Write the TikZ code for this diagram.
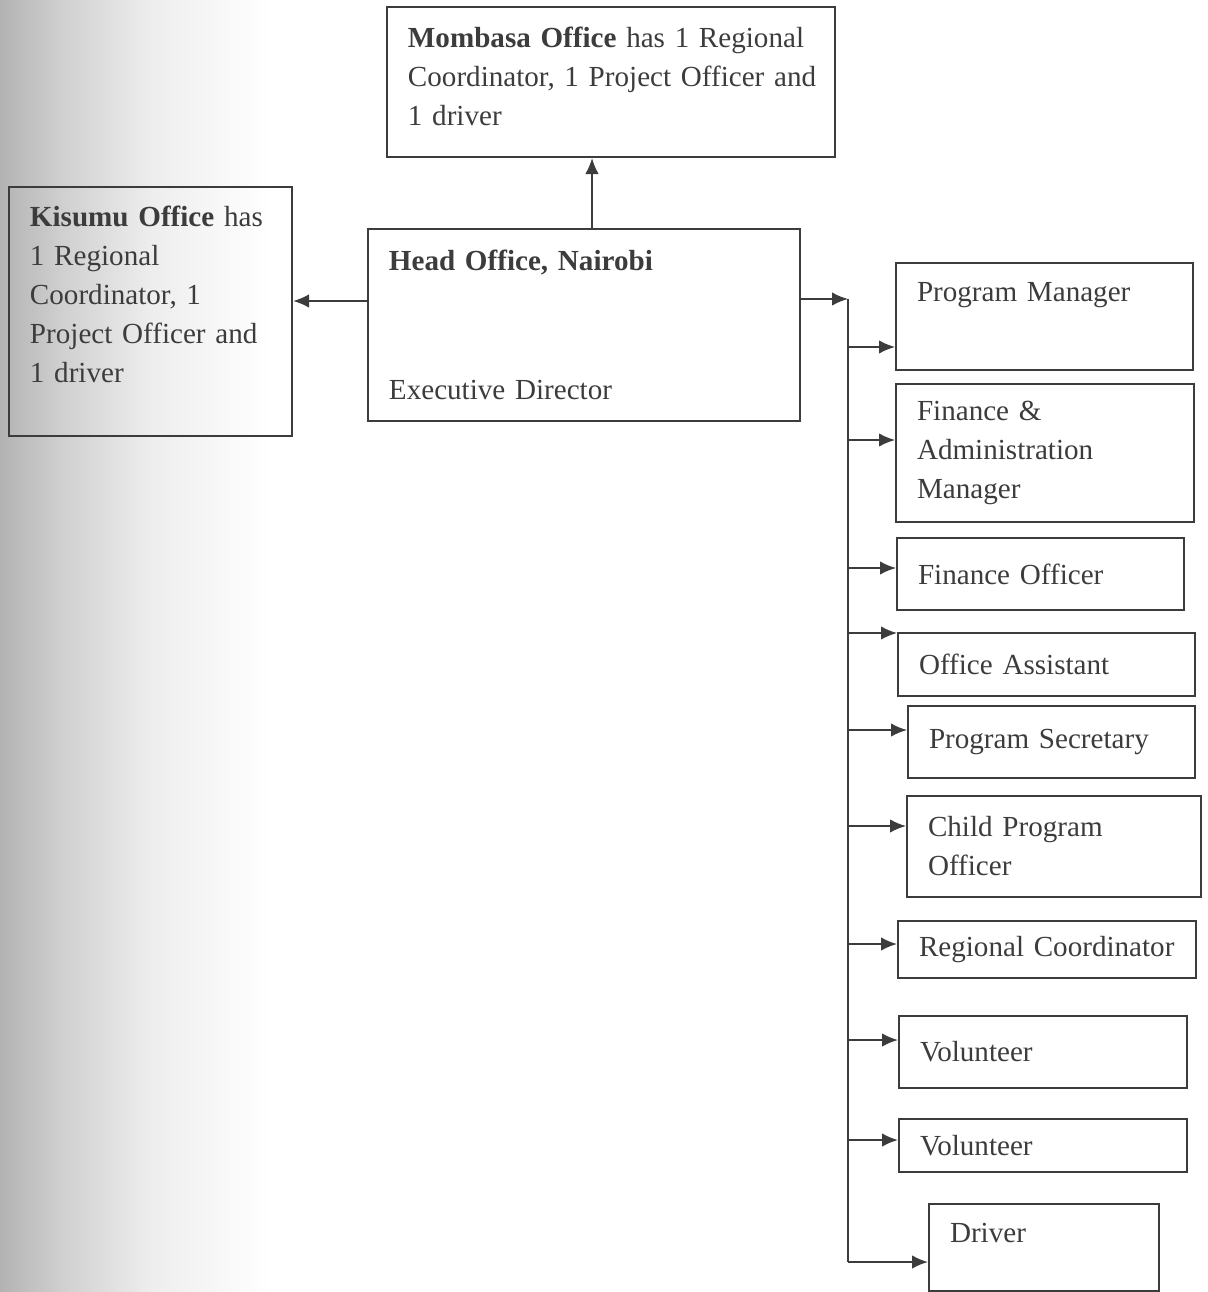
\documentclass[tikz,border=0pt]{standalone}
\usepackage{fontspec}
\setmainfont{Liberation Serif}
\usetikzlibrary{arrows.meta}
\definecolor{ink}{HTML}{3C3C3C}

\begin{document}
\begin{tikzpicture}[x=0.025cm,y=-0.025cm,
  every node/.style={align=left,draw=ink,line width=1.4pt,text=ink,anchor=north west,
    inner xsep=0.525cm,inner ysep=0pt,font=\fontsize{20.7}{27.7}\selectfont},
  arr/.style={draw=ink,line width=1.4pt,-{Latex[length=4mm,width=3.4mm]}}]
\useasboundingbox (0,0) rectangle (1207,1292);
% scan shadow at the left edge
\shade[left color=black!30,right color=black!19] (0,0) rectangle (60,1292);
\shade[left color=black!19,right color=black!7] (59,0) rectangle (150,1292);
\shade[left color=black!7,right color=white] (149,0) rectangle (270,1292);

\node (mom) [text width=10.15cm,minimum height=3.75cm,text depth=2.25cm] at (386,6)
 {\textbf{Mombasa Office} has 1 Regional\\\mbox{Coordinator, 1 Project Officer and}\\1 driver};
\node (kis) [text width=6.025cm,minimum height=6.225cm,text depth=4.77cm] at (8,186)
 {\textbf{Kisumu Office} has\\1 Regional\\Coordinator, 1\\Project Officer and\\1 driver};
\node (ho) [text width=9.75cm,minimum height=4.8cm] at (367,228)
 {\textbf{Head Office, Nairobi}\\[2.25cm]Executive Director};

\node (pm) [text width=6.375cm,minimum height=2.675cm,text depth=1.22cm] at (895,262) {Program Manager};
\node (fa) [text width=6.4cm,minimum height=3.45cm] at (895,383) {Finance \&\\Administration\\Manager};
\node (fo) [text width=6.125cm,minimum height=1.8cm] at (896,537) {Finance Officer};
\node (oa) [text width=6.375cm,minimum height=1.575cm] at (897,632) {Office Assistant};
\node (ps) [text width=6.125cm,minimum height=1.8cm] at (907,705) {Program Secretary};
\node (cpo) [text width=6.3cm,minimum height=2.525cm] at (906,795) {Child Program\\Officer};
\node (rc) [text width=6.4cm,minimum height=1.425cm] at (897,920) {Regional Coordinator};
\node (v1) [text width=6.15cm,minimum height=1.8cm] at (898,1015) {Volunteer};
\node (v2) [text width=6.15cm,minimum height=1.325cm] at (898,1118) {Volunteer};
\node (dr) [text width=4.7cm,minimum height=2.175cm,text depth=0.72cm] at (928,1203) {Driver};

\coordinate (trunktop) at (848,299);
\coordinate (trunkbot) at (848,1262);

\draw[arr] (ho.north -| 592,0) -- (mom.south -| 592,0);
\draw[arr] (ho.west |- 0,301) -- (kis.east |- 0,301);
\draw[arr] (ho.east |- trunktop) -- (trunktop);
\draw[draw=ink,line width=1.4pt] (trunktop) -- (trunkbot);
\foreach \n/\y in {pm/347,fa/440,fo/568,oa/633,ps/730,cpo/826,rc/944,v1/1040,v2/1140,dr/1262}
  \draw[arr] (trunktop |- 0,\y) -- (\n.west |- 0,\y);
\end{tikzpicture}
\end{document}
